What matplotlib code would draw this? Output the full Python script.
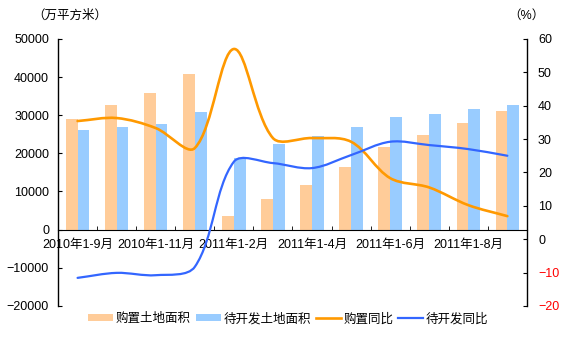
import matplotlib
matplotlib.use("Agg")
import matplotlib.pyplot as plt
from matplotlib.path import Path
from matplotlib.patches import PathPatch, Patch
from matplotlib.lines import Line2D

plt.rcParams["font.family"] = ["Liberation Sans", "Noto Sans CJK SC"]
plt.rcParams["font.size"] = 9

# 月度累计数据
periods = ["2010年1-9月", "2010年1-10月", "2010年1-11月", "2010年1-12月",
           "2011年1-2月", "2011年1-3月", "2011年1-4月", "2011年1-5月",
           "2011年1-6月", "2011年1-7月", "2011年1-8月", "2011年1-9月"]
purchase_area = [29000, 32700, 35900, 40800, 3700, 8100,
                 11800, 16500, 21700, 24900, 28000, 31200]
pending_area = [26200, 27000, 27700, 30900, 18800, 22500,
                24600, 27000, 29600, 30400, 31700, 32700]
purchase_yoy = [35.4, 36.3, 33.3, 27.3, 57.0, 30.3,
                30.3, 29.2, 18.3, 15.5, 10.2, 6.9]
pending_yoy = [-11.6, -10.1, -10.8, -8.3, 23.2, 22.8,
               21.3, 25.2, 29.2, 28.2, 27.0, 25.0]

C_BAR1 = "#FFCC99"
C_BAR2 = "#99CCFF"
C_LINE1 = "#FF9900"
C_LINE2 = "#3366FF"


def smooth_path(ax, xs, ys):
    """平滑曲线：按屏幕弦长加权的三次贝塞尔，经过每个数据点"""
    tr = ax.transData
    inv = tr.inverted()
    pts = [tuple(tr.transform((a, b))) for a, b in zip(xs, ys)]
    n = len(pts)

    def dist(p, q):
        return ((p[0] - q[0]) ** 2 + (p[1] - q[1]) ** 2) ** 0.5

    out_c, in_c = [], []
    for i in range(n):
        prev = pts[i - 1] if i > 0 else pts[i]
        nxt = pts[i + 1] if i < n - 1 else pts[i]
        tx, ty = nxt[0] - prev[0], nxt[1] - prev[1]
        d0, d1 = dist(prev, pts[i]), dist(pts[i], nxt)
        s = d0 + d1 if d0 + d1 > 0 else 1.0
        k_out = d1 / s / 3 * 1.0
        k_in = d0 / s / 3 * 1.0
        out_c.append((pts[i][0] + tx * k_out, pts[i][1] + ty * k_out))
        in_c.append((pts[i][0] - tx * k_in, pts[i][1] - ty * k_in))

    verts = [pts[0]]
    codes = [Path.MOVETO]
    for i in range(n - 1):
        verts += [out_c[i], in_c[i + 1], pts[i + 1]]
        codes += [Path.CURVE4] * 3
    verts = [tuple(inv.transform(v)) for v in verts]
    return Path(verts, codes)


fig = plt.figure(figsize=(5.69, 3.48), dpi=100)
ax = fig.add_axes([0.102, 0.121, 0.824, 0.767])
ax2 = ax.twinx()

x = list(range(len(periods)))
w = 0.3
ax.bar([i - w / 2 for i in x], purchase_area, width=w, color=C_BAR1)
ax.bar([i + w / 2 for i in x], pending_area, width=w, color=C_BAR2)

ax.set_xlim(-0.5, len(periods) - 0.5)
ax.set_ylim(-20000, 50000)
ax.set_yticks(range(-20000, 50001, 10000))
ax2.set_ylim(-20, 60)
ax2.set_yticks(range(-20, 61, 10))

ax2.add_patch(PathPatch(smooth_path(ax2, x, purchase_yoy), fill=False,
                        edgecolor=C_LINE1, lw=1.9, capstyle="round"))
ax2.add_patch(PathPatch(smooth_path(ax2, x, pending_yoy), fill=False,
                        edgecolor=C_LINE2, lw=1.6, capstyle="round"))

# 坐标轴样式
for a in (ax, ax2):
    a.spines["top"].set_visible(False)
ax.spines["right"].set_visible(False)
ax2.spines["left"].set_visible(False)
ax2.spines["bottom"].set_visible(False)
ax.spines["bottom"].set_position(("data", 0))
ax.spines["left"].set_linewidth(1.0)
ax2.spines["right"].set_linewidth(1.0)

ax.set_xticks(x[::2])
ax.set_xticklabels(periods[::2])
ax.set_xticks([i + 0.5 for i in x[:-1]], minor=True)
ax.tick_params(axis="x", which="major", length=0, pad=7)
ax.tick_params(axis="x", which="minor", length=3, direction="in")
ax.tick_params(axis="y", direction="in", length=3, pad=6.5)
ax2.tick_params(axis="y", direction="in", length=3, pad=8)

for lab, v in zip(ax2.get_yticklabels(), ax2.get_yticks()):
    lab.set_color("red" if v < 0 else "black")

fig.text(0.122, 0.955, "（万平方米）", ha="center", va="center", fontsize=9)
fig.text(0.925, 0.955, "（%）", ha="center", va="center", fontsize=9)

handles = [
    Patch(facecolor=C_BAR1, edgecolor="none", label="购置土地面积"),
    Patch(facecolor=C_BAR2, edgecolor="none", label="待开发土地面积"),
    Line2D([], [], color=C_LINE1, lw=1.9, label="购置同比"),
    Line2D([], [], color=C_LINE2, lw=1.6, label="待开发同比"),
]
fig.legend(handles=handles, loc="center", bbox_to_anchor=(0.507, 0.083),
           ncol=4, frameon=False, handlelength=2.0, handleheight=0.5,
           handletextpad=0.2, columnspacing=0.4, fontsize=9)

fig.savefig("out.png", dpi=100)
plt.close(fig)
